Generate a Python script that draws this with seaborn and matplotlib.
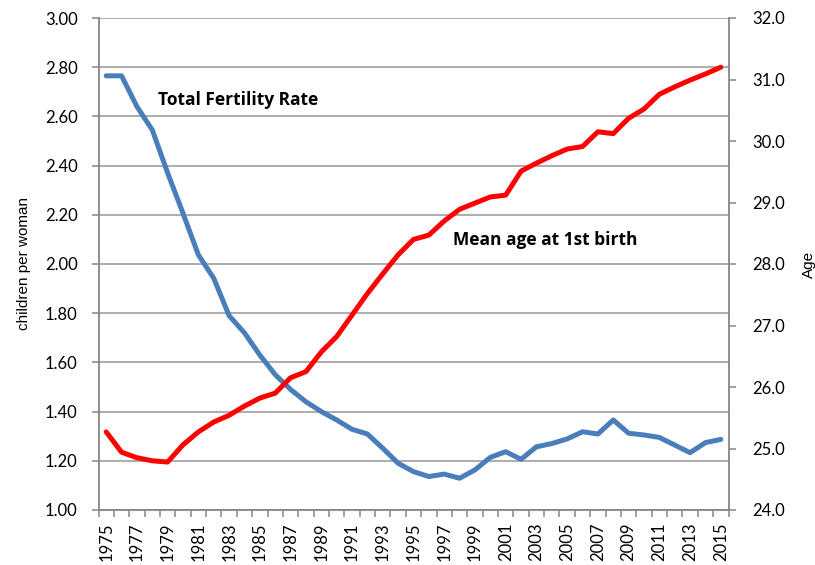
import pandas as pd
import seaborn as sns
import matplotlib
import matplotlib.pyplot as plt
import numpy as np

sns.set_style('white')
matplotlib.rcParams['font.family'] = ['Lato', 'DejaVu Sans']
matplotlib.rcParams['text.color'] = 'black'
matplotlib.rcParams['axes.labelcolor'] = 'black'

years = list(range(1975, 2016))
tfr = [2.765, 2.765, 2.64, 2.545, 2.37, 2.206, 2.037, 1.942, 1.79, 1.72,
       1.63, 1.55, 1.49, 1.44, 1.40, 1.366, 1.328, 1.309, 1.251, 1.19,
       1.156, 1.136, 1.146, 1.129, 1.163, 1.214, 1.237, 1.206, 1.257, 1.27,
       1.289, 1.318, 1.309, 1.366, 1.312, 1.305, 1.295, 1.264, 1.233, 1.274,
       1.287]
mean_age = [25.27, 24.94, 24.85, 24.80, 24.78, 25.06, 25.27, 25.43, 25.54, 25.69,
            25.82, 25.90, 26.15, 26.25, 26.57, 26.82, 27.17, 27.52, 27.84, 28.15,
            28.40, 28.47, 28.70, 28.89, 28.99, 29.09, 29.12, 29.51, 29.64, 29.76,
            29.87, 29.91, 30.15, 30.12, 30.37, 30.52, 30.76, 30.88, 30.99, 31.09,
            31.20]

df = pd.DataFrame({'year': years, 'tfr': tfr, 'age': mean_age})

axis_grey = '#868686'
grid_grey = '#a6a6a6'

fig = plt.figure(figsize=(8.15, 5.65), dpi=100)
ax = fig.add_axes([98.5 / 815, 1 - 510 / 565, 630 / 815, 492 / 565])
ax2 = ax.twinx()

sns.lineplot(data=df, x='year', y='tfr', ax=ax, color='#4a7ebb', linewidth=3.6)
sns.lineplot(data=df, x='year', y='age', ax=ax2, color='#ff0000', linewidth=3.6)

ax.set_xlim(1974.5, 2015.5)
ax.set_ylim(1.0, 3.0)
ax2.set_ylim(24.0, 32.0)

ax.set_yticks(np.arange(1.0, 3.01, 0.2))
ax.set_yticklabels([f'{v:.2f}' for v in np.arange(1.0, 3.01, 0.2)], fontsize=12)
ax2.set_yticks(np.arange(24, 33, 1))
ax2.set_yticklabels([f'{v:.1f}' for v in np.arange(24, 33, 1)], fontsize=12)

ax.set_xticks(years[::2])
ax.set_xticklabels([str(y) for y in years[::2]], rotation=90, fontsize=12)
ax.set_xticks(np.arange(1974.5, 2016, 1), minor=True)
ax.tick_params(axis='x', which='major', length=0, pad=9, labelcolor='black')
ax.tick_params(axis='x', which='minor', length=5, width=1.1, color=axis_grey, bottom=True)
ax.tick_params(axis='y', length=5, width=1.1, color=axis_grey, left=True, pad=10,
               labelcolor='black')
ax2.tick_params(axis='y', length=5, width=1.1, color=axis_grey, right=True, pad=12,
                labelcolor='black')

ax.grid(axis='y', color=grid_grey, linewidth=1.3)
ax.grid(axis='x', visible=False)
ax.set_axisbelow(True)

for a in (ax, ax2):
    for s in a.spines.values():
        s.set_visible(False)
ax.spines['left'].set_visible(True)
ax.spines['bottom'].set_visible(True)
ax2.spines['right'].set_visible(True)
for s in (ax.spines['left'], ax.spines['bottom'], ax2.spines['right']):
    s.set_color(axis_grey)
    s.set_linewidth(1.3)

ax.set_xlabel('')
ax.set_ylabel('children per woman', fontsize=11, family=['Liberation Sans'], labelpad=10)
ax2.set_ylabel('Age', fontsize=11, family=['Liberation Sans'], labelpad=12)

ax.text(1978.4, 2.667, 'Total Fertility Rate', fontsize=12.5, fontweight='bold',
        family=['Open Sans'], color='black', va='center', zorder=5)
ax2.text(1997.6, 28.39, 'Mean age at 1st birth', fontsize=12.5, fontweight='bold',
         family=['Open Sans'], color='black', va='center', zorder=5)

fig.savefig('out.png', dpi=100)
